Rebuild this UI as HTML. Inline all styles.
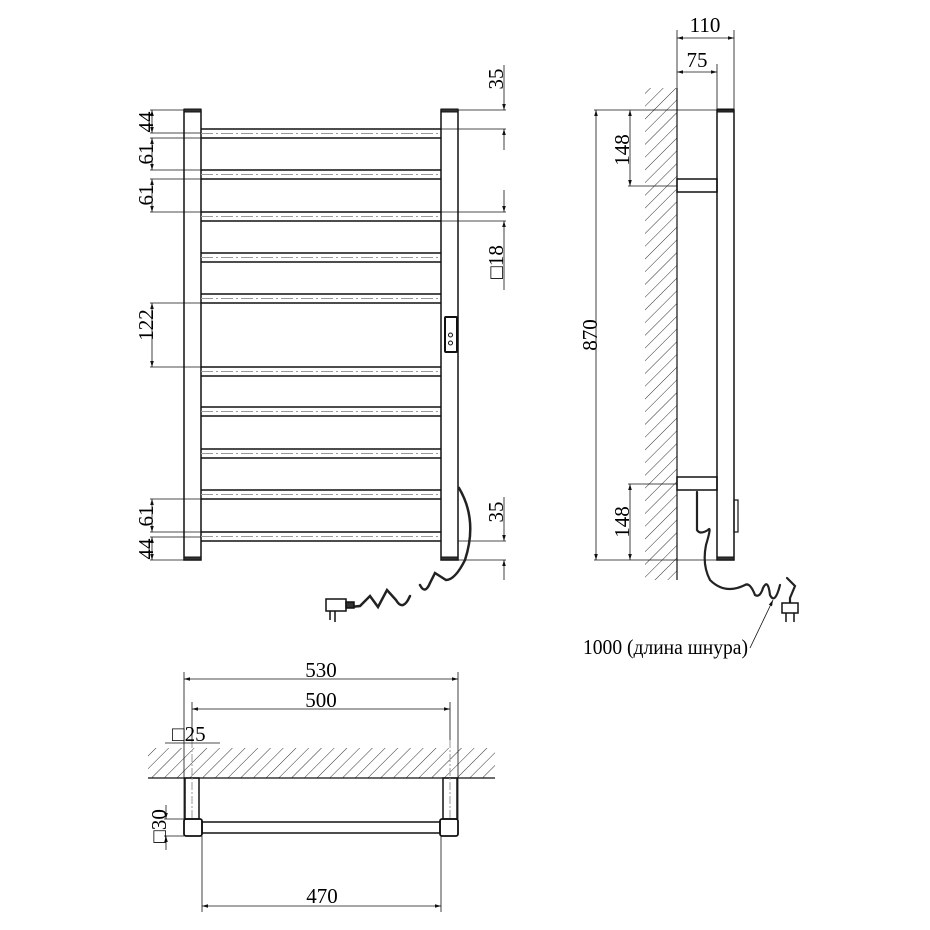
<!DOCTYPE html>
<html><head><meta charset="utf-8"><style>
html,body{margin:0;padding:0;background:#fff}
svg{display:block}
text{font-family:"Liberation Serif",serif;font-size:21px;fill:#000}
</style></head><body>
<svg width="930" height="930" viewBox="0 0 930 930" xmlns="http://www.w3.org/2000/svg">
<defs>
<pattern id="h" width="9" height="9" patternUnits="userSpaceOnUse" patternTransform="rotate(45)">
<line x1="0" y1="0" x2="0" y2="9" stroke="#333" stroke-width="1"/>
</pattern>
<marker id="a" viewBox="0 0 10 10" refX="10" refY="5" markerWidth="9" markerHeight="6" orient="auto-start-reverse" markerUnits="userSpaceOnUse">
<path d="M0,2 L10,5 L0,8 z" fill="#111"/>
</marker>
</defs>
<g stroke="#111" fill="none" stroke-width="1">
<rect x="184" y="110" width="17" height="450" stroke-width="1.5"/>
<rect x="441" y="110" width="17" height="450" stroke-width="1.5"/>
<rect x="184" y="109" width="17" height="3" fill="#333"/>
<rect x="441" y="109" width="17" height="3" fill="#333"/>
<rect x="184" y="557" width="17" height="3" fill="#333"/>
<rect x="441" y="557" width="17" height="3" fill="#333"/>
</g>
<g stroke="#111" stroke-width="1.5">
<line x1="201" y1="129" x2="441" y2="129"/><line x1="201" y1="138" x2="441" y2="138"/>
<line x1="201" y1="170" x2="441" y2="170"/><line x1="201" y1="179" x2="441" y2="179"/>
<line x1="201" y1="212" x2="441" y2="212"/><line x1="201" y1="221" x2="441" y2="221"/>
<line x1="201" y1="253" x2="441" y2="253"/><line x1="201" y1="262" x2="441" y2="262"/>
<line x1="201" y1="294" x2="441" y2="294"/><line x1="201" y1="303" x2="441" y2="303"/>
<line x1="201" y1="367" x2="441" y2="367"/><line x1="201" y1="376" x2="441" y2="376"/>
<line x1="201" y1="407" x2="441" y2="407"/><line x1="201" y1="416" x2="441" y2="416"/>
<line x1="201" y1="449" x2="441" y2="449"/><line x1="201" y1="458" x2="441" y2="458"/>
<line x1="201" y1="490" x2="441" y2="490"/><line x1="201" y1="499" x2="441" y2="499"/>
<line x1="201" y1="532" x2="441" y2="532"/><line x1="201" y1="541" x2="441" y2="541"/>
</g>
<g stroke="#999" stroke-width="1" stroke-dasharray="12,3,2,3">
<line x1="201" y1="133.5" x2="441" y2="133.5"/><line x1="201" y1="174.5" x2="441" y2="174.5"/>
<line x1="201" y1="216.5" x2="441" y2="216.5"/><line x1="201" y1="257.5" x2="441" y2="257.5"/>
<line x1="201" y1="298.5" x2="441" y2="298.5"/><line x1="201" y1="371.5" x2="441" y2="371.5"/>
<line x1="201" y1="411.5" x2="441" y2="411.5"/><line x1="201" y1="453.5" x2="441" y2="453.5"/>
<line x1="201" y1="494.5" x2="441" y2="494.5"/><line x1="201" y1="536.5" x2="441" y2="536.5"/>
</g>
<g stroke="#111" fill="none">
<rect x="445" y="317" width="12" height="35" rx="1" stroke-width="2"/>
<circle cx="450.5" cy="335" r="2"/><circle cx="450.5" cy="343" r="2"/>
</g>
<g stroke="#111" stroke-width="0.8" fill="none">
<line x1="150" y1="110" x2="184" y2="110"/><line x1="150" y1="133" x2="201" y2="133"/>
<line x1="150" y1="138" x2="201" y2="138"/><line x1="150" y1="170" x2="201" y2="170"/>
<line x1="150" y1="179" x2="201" y2="179"/><line x1="150" y1="212" x2="201" y2="212"/>
<line x1="150" y1="303" x2="201" y2="303"/><line x1="150" y1="367" x2="201" y2="367"/>
<line x1="150" y1="499" x2="201" y2="499"/><line x1="150" y1="532" x2="201" y2="532"/>
<line x1="150" y1="537" x2="201" y2="537"/><line x1="150" y1="560" x2="184" y2="560"/>
<line x1="152" y1="110" x2="152" y2="133" marker-start="url(#a)" marker-end="url(#a)"/>
<line x1="152" y1="138" x2="152" y2="170" marker-start="url(#a)" marker-end="url(#a)"/>
<line x1="152" y1="179" x2="152" y2="212" marker-start="url(#a)" marker-end="url(#a)"/>
<line x1="152" y1="303" x2="152" y2="367" marker-start="url(#a)" marker-end="url(#a)"/>
<line x1="152" y1="499" x2="152" y2="532" marker-start="url(#a)" marker-end="url(#a)"/>
<line x1="152" y1="537" x2="152" y2="560" marker-start="url(#a)" marker-end="url(#a)"/>
<line x1="458" y1="110" x2="506" y2="110"/><line x1="441" y1="129" x2="506" y2="129"/>
<line x1="504" y1="65" x2="504" y2="110" marker-end="url(#a)"/>
<line x1="504" y1="150" x2="504" y2="129" marker-end="url(#a)"/>
<line x1="441" y1="212" x2="506" y2="212"/><line x1="441" y1="221" x2="506" y2="221"/>
<line x1="504" y1="190" x2="504" y2="212" marker-end="url(#a)"/>
<line x1="504" y1="290" x2="504" y2="221" marker-end="url(#a)"/>
<line x1="458" y1="541" x2="506" y2="541"/><line x1="458" y1="560" x2="506" y2="560"/>
<line x1="504" y1="497" x2="504" y2="541" marker-end="url(#a)"/>
<line x1="504" y1="580" x2="504" y2="560" marker-end="url(#a)"/>
</g>
<g>
<text transform="translate(153,122) rotate(-90)" text-anchor="middle">44</text>
<text transform="translate(153,154) rotate(-90)" text-anchor="middle">61</text>
<text transform="translate(153,195) rotate(-90)" text-anchor="middle">61</text>
<text transform="translate(153,325) rotate(-90)" text-anchor="middle">122</text>
<text transform="translate(153,516) rotate(-90)" text-anchor="middle">61</text>
<text transform="translate(153,549) rotate(-90)" text-anchor="middle">44</text>
<text transform="translate(503,79) rotate(-90)" text-anchor="middle">35</text>
<text transform="translate(503,262) rotate(-90)" text-anchor="middle">□18</text>
<text transform="translate(503,512) rotate(-90)" text-anchor="middle">35</text>
</g>
<g stroke="#222" stroke-width="2.5" fill="none" stroke-linecap="round">
<path d="M459,488 Q478,520 465,560 Q455,580 446,580 L435,573 L430,583 Q425,595 420,585 M410,596 Q403,612 396,600 L387,590 L378,607 L370,596 L360,606 L350,607"/>
</g>
<g stroke="#111" fill="#fff" stroke-width="1.5">
<rect x="326" y="599" width="20" height="12"/>
<rect x="346" y="602" width="8" height="6" fill="#333"/>
<line x1="330" y1="611" x2="330" y2="620"/><line x1="335" y1="611" x2="335" y2="622"/>
</g>
<rect x="645" y="88" width="32" height="492" fill="url(#h)"/>
<g stroke="#111" fill="none">
<line x1="677" y1="88" x2="677" y2="580" stroke-width="1.2"/>
<rect x="717" y="110" width="17" height="450" stroke-width="1.5"/>
<rect x="717" y="109" width="17" height="3" fill="#333"/>
<rect x="717" y="557" width="17" height="3" fill="#333"/>
<rect x="677" y="179" width="40" height="13" stroke-width="1.5"/>
<rect x="677" y="477" width="40" height="13" stroke-width="1.5"/>
<rect x="734" y="500" width="4" height="32" stroke-width="1.2"/>
</g>
<g stroke="#111" stroke-width="0.8" fill="none">
<line x1="677" y1="30" x2="677" y2="110"/><line x1="734" y1="30" x2="734" y2="110"/>
<line x1="717" y1="64" x2="717" y2="110"/>
<line x1="677" y1="38" x2="734" y2="38" marker-start="url(#a)" marker-end="url(#a)"/>
<line x1="677" y1="72" x2="717" y2="72" marker-start="url(#a)" marker-end="url(#a)"/>
<line x1="594" y1="110" x2="734" y2="110"/><line x1="594" y1="560" x2="734" y2="560"/>
<line x1="596" y1="110" x2="596" y2="560" marker-start="url(#a)" marker-end="url(#a)"/>
<line x1="628" y1="186" x2="677" y2="186"/><line x1="628" y1="484" x2="677" y2="484"/>
<line x1="630" y1="110" x2="630" y2="186" marker-start="url(#a)" marker-end="url(#a)"/>
<line x1="630" y1="484" x2="630" y2="560" marker-start="url(#a)" marker-end="url(#a)"/>
<line x1="750" y1="648" x2="773" y2="600" marker-end="url(#a)"/>
</g>
<text x="705" y="32" text-anchor="middle">110</text>
<text x="697" y="67" text-anchor="middle">75</text>
<text transform="translate(629,150) rotate(-90)" text-anchor="middle">148</text>
<text transform="translate(629,522) rotate(-90)" text-anchor="middle">148</text>
<text transform="translate(597,335) rotate(-90)" text-anchor="middle">870</text>
<text x="583" y="654" textLength="165" lengthAdjust="spacingAndGlyphs">1000 (длина шнура)</text>
<g stroke="#222" stroke-width="2.2" fill="none" stroke-linecap="round">
<path d="M697,492 L697,530 Q700,535 708,530 Q712,525 706,545 Q702,565 710,580 Q725,595 745,585 Q750,582 755,595 Q760,598 763,588 Q768,578 770,595 Q775,605 780,585"/>
<path d="M787,578 L795,586 L790,598 L790,605"/>
</g>
<g stroke="#111" fill="#fff" stroke-width="1.5">
<rect x="782" y="603" width="16" height="10"/>
<line x1="786" y1="613" x2="786" y2="622"/><line x1="794" y1="613" x2="794" y2="622"/>
</g>
<rect x="148" y="748" width="347" height="30" fill="url(#h)"/>
<g stroke="#111" fill="none">
<line x1="148" y1="778" x2="495" y2="778" stroke-width="1.2"/>
<rect x="185" y="778" width="14" height="41" stroke-width="1.5"/>
<rect x="443" y="778" width="14" height="41" stroke-width="1.5"/>
<line x1="192" y1="740" x2="192" y2="819" stroke="#999" stroke-dasharray="8,2,2,2"/>
<line x1="450" y1="740" x2="450" y2="819" stroke="#999" stroke-dasharray="8,2,2,2"/>
<rect x="184" y="819" width="18" height="17" rx="2" stroke-width="1.8"/>
<rect x="440" y="819" width="18" height="17" rx="2" stroke-width="1.8"/>
<rect x="202" y="822" width="238" height="11" stroke-width="1.5"/>
</g>
<g stroke="#111" stroke-width="0.8" fill="none">
<line x1="184" y1="672" x2="184" y2="819"/><line x1="458" y1="672" x2="458" y2="819"/>
<line x1="192" y1="702" x2="192" y2="740"/><line x1="450" y1="702" x2="450" y2="740"/>
<line x1="184" y1="679" x2="458" y2="679" marker-start="url(#a)" marker-end="url(#a)"/>
<line x1="192" y1="709" x2="450" y2="709" marker-start="url(#a)" marker-end="url(#a)"/>
<line x1="165" y1="743" x2="220" y2="743"/>
<line x1="202" y1="836" x2="202" y2="912"/><line x1="441" y1="836" x2="441" y2="912"/>
<line x1="202" y1="906" x2="441" y2="906" marker-start="url(#a)" marker-end="url(#a)"/>
<line x1="164" y1="819" x2="184" y2="819"/><line x1="164" y1="836" x2="184" y2="836"/>
<line x1="166" y1="805" x2="166" y2="819" marker-end="url(#a)"/>
<line x1="166" y1="850" x2="166" y2="836" marker-end="url(#a)"/>
</g>
<text x="321" y="677" text-anchor="middle">530</text>
<text x="321" y="707" text-anchor="middle">500</text>
<text x="322" y="903" text-anchor="middle">470</text>
<text x="172" y="741">□25</text>
<text transform="translate(166,826) rotate(-90)" text-anchor="middle">□30</text>
</svg>
</body></html>
